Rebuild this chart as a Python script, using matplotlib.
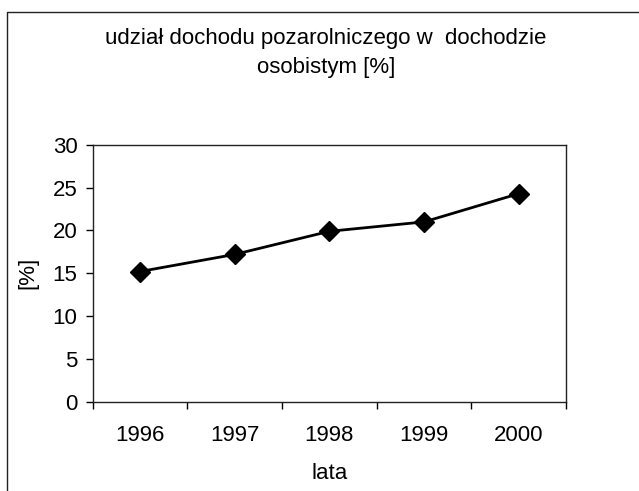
import numpy as np
import matplotlib.pyplot as plt
from matplotlib.lines import Line2D

plt.rcParams['font.family'] = ['Liberation Sans', 'DejaVu Sans']

years = ['1996', '1997', '1998', '1999', '2000']
share = [15.2, 17.2, 19.9, 21.0, 24.3]

fig = plt.figure(figsize=(6.39, 4.91), dpi=100)
ax = fig.add_axes([0.145, 0.182, 0.741, 0.523])

x = np.arange(len(years))
ax.plot(x, share, color='black', linewidth=2.0, marker='D', markersize=10,
        markerfacecolor='black', markeredgecolor='black')

ax.set_xlim(-0.5, len(years) - 0.5)
ax.set_ylim(0, 30)
ax.set_yticks(range(0, 31, 5))
ax.set_xticks(x)
ax.set_xticklabels(years)
ax.set_xticks(np.arange(-0.5, len(years), 1.0), minor=True)
ax.tick_params(axis='x', which='major', length=0, pad=17, labelsize=16)
ax.tick_params(axis='x', which='minor', length=5, width=1, direction='out')
ax.tick_params(axis='y', length=5, width=1, direction='out', labelsize=16, pad=6)

for s in ax.spines.values():
    s.set_linewidth(1.0)
    s.set_color('#222222')

ax.set_xlabel('lata', fontsize=16, labelpad=12)
ax.set_ylabel('[%]', fontsize=16, labelpad=10)

fig.text(0.51, 0.892, 'udział dochodu pozarolniczego w  dochodzie\nosobistym [%]',
         ha='center', va='center', fontsize=16, linespacing=1.5)

# outer frame (left and top edges visible in the scan)
fig.add_artist(Line2D([0.011, 0.011, 1.0], [0.0, 0.976, 0.976],
                      transform=fig.transFigure, color='#222222', linewidth=1.0))

fig.savefig('out.png', dpi=100)
